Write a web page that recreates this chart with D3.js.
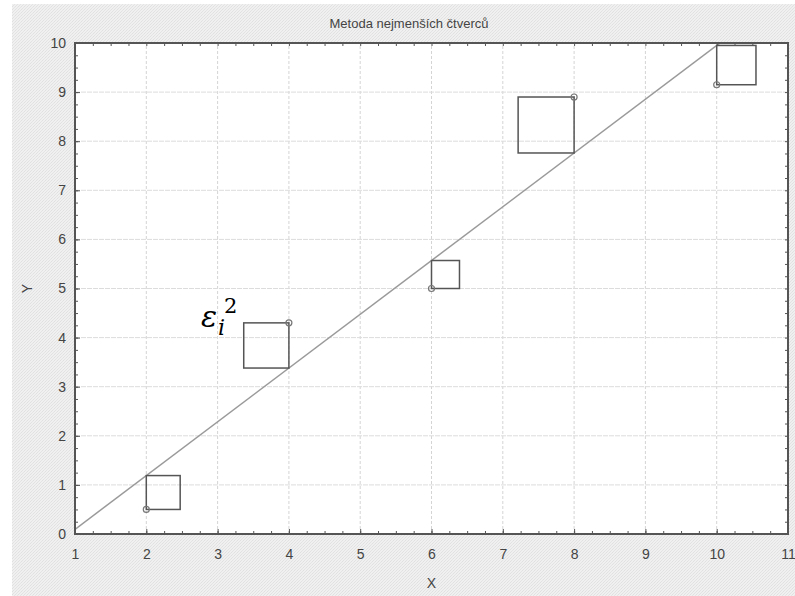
<!DOCTYPE html>
<html>
<head>
<meta charset="utf-8">
<script src="https://cdn.jsdelivr.net/npm/d3@7"></script>
<style>
  body { margin: 0; background: #fff; }
  text { font-family: "Liberation Sans", Arial, sans-serif; fill: #444; }
</style>
</head>
<body>
<svg id="chart"></svg>
<script>
// data
var xs = [2, 4, 6, 8, 10];
var ys = [0.5, 4.3, 5.0, 8.9, 9.15];
var xTicks = [1, 2, 3, 4, 5, 6, 7, 8, 9, 10, 11];
var yTicks = [0, 1, 2, 3, 4, 5, 6, 7, 8, 9, 10];

var w = 795, h = 596;
var margin = {top: 43, right: 7, bottom: 62, left: 75};

var svg = d3.select('#chart')
  .attr('width', w)
  .attr('height', h);

// textured grey background
var defs = svg.append('defs');
var pat = defs.append('pattern')
  .attr('id', 'tex')
  .attr('width', 3).attr('height', 3)
  .attr('patternUnits', 'userSpaceOnUse');
pat.append('rect').attr('width', 3).attr('height', 3).attr('fill', '#f0f0f0');
pat.append('rect').attr('x', 0).attr('y', 0).attr('width', 1).attr('height', 1).attr('fill', '#e0e0e0');
pat.append('rect').attr('x', 2).attr('y', 1).attr('width', 1).attr('height', 1).attr('fill', '#e4e4e4');
pat.append('rect').attr('x', 1).attr('y', 2).attr('width', 1).attr('height', 1).attr('fill', '#e2e2e2');

svg.append('rect')
  .attr('x', 12).attr('y', 4)
  .attr('width', w - 12).attr('height', h - 4)
  .attr('fill', 'url(#tex)');

var x = d3.scaleLinear().domain([1, 11]).range([margin.left, w - margin.right]);
var y = d3.scaleLinear().domain([0, 10]).range([h - margin.bottom, margin.top]);

defs.append('clipPath').attr('id', 'plotclip')
  .append('rect')
  .attr('x', x(1)).attr('y', y(10))
  .attr('width', x(11) - x(1)).attr('height', y(0) - y(10));

// plot area
svg.append('rect')
  .attr('x', x(1)).attr('y', y(10))
  .attr('width', x(11) - x(1)).attr('height', y(0) - y(10))
  .attr('fill', '#fff');

// grid
svg.append('g')
  .selectAll('line')
  .data(xTicks.slice(1, -1))
  .enter()
  .append('line')
  .attr('x1', function(d){return x(d);})
  .attr('x2', function(d){return x(d);})
  .attr('y1', y(0)).attr('y2', y(10))
  .attr('stroke', '#d4d4d4')
  .attr('stroke-dasharray', '3,2');

svg.append('g')
  .selectAll('line')
  .data(yTicks.slice(1, -1))
  .enter()
  .append('line')
  .attr('x1', x(1)).attr('x2', x(11))
  .attr('y1', function(d){return y(d);})
  .attr('y2', function(d){return y(d);})
  .attr('stroke', '#dcdcdc')
  .attr('stroke-dasharray', '5,1');

// least squares fit
var mx = d3.mean(xs), my = d3.mean(ys);
var sxy = d3.sum(xs, function(d, i){return (d - mx) * (ys[i] - my);});
var sxx = d3.sum(xs, function(d){return (d - mx) * (d - mx);});
var b = sxy / sxx, a = my - b * mx;
var fit = function(v){return a + b * v;};

var plot = svg.append('g').attr('clip-path', 'url(#plotclip)');

plot.append('line')
  .attr('x1', x(1)).attr('y1', y(fit(1)))
  .attr('x2', x(11)).attr('y2', y(fit(11)))
  .attr('stroke', '#9a9a9a')
  .attr('stroke-width', 1.5);

// squares of the residuals
var pts = xs.map(function(d, i){return {x: d, y: ys[i], yhat: fit(d)};});

plot.selectAll('rect.sq')
  .data(pts)
  .enter()
  .append('rect')
  .attr('class', 'sq')
  .attr('y', function(d){return y(Math.max(d.y, d.yhat));})
  .attr('height', function(d){return Math.abs(y(d.y) - y(d.yhat));})
  .attr('width', function(d){return Math.abs(y(d.y) - y(d.yhat));})
  .attr('x', function(d){
      var side = Math.abs(y(d.y) - y(d.yhat));
      return d.y > d.yhat ? x(d.x) - side : x(d.x);
  })
  .attr('fill', 'none')
  .attr('stroke', '#555')
  .attr('stroke-width', 1.5);

plot.selectAll('circle')
  .data(pts)
  .enter()
  .append('circle')
  .attr('cx', function(d){return x(d.x);})
  .attr('cy', function(d){return y(d.y);})
  .attr('r', 3)
  .attr('fill', 'none')
  .attr('stroke', '#777')
  .attr('stroke-width', 1.2);

// axes with inward ticks, frame
var axisColor = '#555';
function styleAxis(g) {
  g.select('.domain').remove();
  g.selectAll('line').attr('stroke', axisColor);
  g.selectAll('text').attr('fill', '#444').style('font-size', '14px')
    .style('font-family', '"Liberation Sans", Arial, sans-serif');
}

var minorX = d3.range(1, 11.001, 0.25);
var minorY = d3.range(0, 10.001, 0.25);

svg.append('g')
  .attr('transform', 'translate(0,' + y(0) + ')')
  .call(d3.axisBottom(x).tickValues(xTicks).tickFormat(d3.format('d')).tickSize(-5).tickPadding(15))
  .call(styleAxis);
svg.append('g')
  .attr('transform', 'translate(0,' + y(0) + ')')
  .call(d3.axisBottom(x).tickValues(minorX).tickFormat('').tickSize(-3))
  .call(styleAxis);
svg.append('g')
  .attr('transform', 'translate(0,' + y(10) + ')')
  .call(d3.axisTop(x).tickValues(minorX).tickFormat('').tickSize(-3))
  .call(styleAxis);

svg.append('g')
  .attr('transform', 'translate(' + x(1) + ',0)')
  .call(d3.axisLeft(y).tickValues(yTicks).tickFormat(d3.format('d')).tickSize(-5).tickPadding(9))
  .call(styleAxis);
svg.append('g')
  .attr('transform', 'translate(' + x(1) + ',0)')
  .call(d3.axisLeft(y).tickValues(minorY).tickFormat('').tickSize(-3))
  .call(styleAxis);
svg.append('g')
  .attr('transform', 'translate(' + x(11) + ',0)')
  .call(d3.axisRight(y).tickValues(minorY).tickFormat('').tickSize(-3))
  .call(styleAxis);

svg.append('rect')
  .attr('x', x(1)).attr('y', y(10))
  .attr('width', x(11) - x(1)).attr('height', y(0) - y(10))
  .attr('fill', 'none')
  .attr('stroke', axisColor)
  .attr('stroke-width', 2);

// labels
svg.append('text')
  .attr('x', 409).attr('y', 28)
  .attr('text-anchor', 'middle')
  .style('font-size', '13px')
  .text('Metoda nejmenších čtverců');

svg.append('text')
  .attr('x', (x(1) + x(11)) / 2).attr('y', 588)
  .attr('text-anchor', 'middle')
  .style('font-size', '14px')
  .text('X');

svg.append('text')
  .attr('transform', 'translate(32,' + y(5) + ') rotate(-90)')
  .attr('text-anchor', 'middle')
  .style('font-size', '14px')
  .text('Y');

// epsilon_i^2 annotation
var eps = svg.append('text')
  .attr('x', 201).attr('y', 327)
  .style('font-family', '"DejaVu Serif", serif')
  .style('font-style', 'italic')
  .style('fill', '#000');
eps.append('tspan').style('font-size', '30px').text('ε');
eps.append('tspan').attr('x', 218).attr('y', 335).style('font-size', '22px').text('i');
eps.append('tspan').attr('x', 224).attr('y', 313).style('font-size', '21px').style('font-style', 'normal').text('2');
</script>
</body>
</html>
